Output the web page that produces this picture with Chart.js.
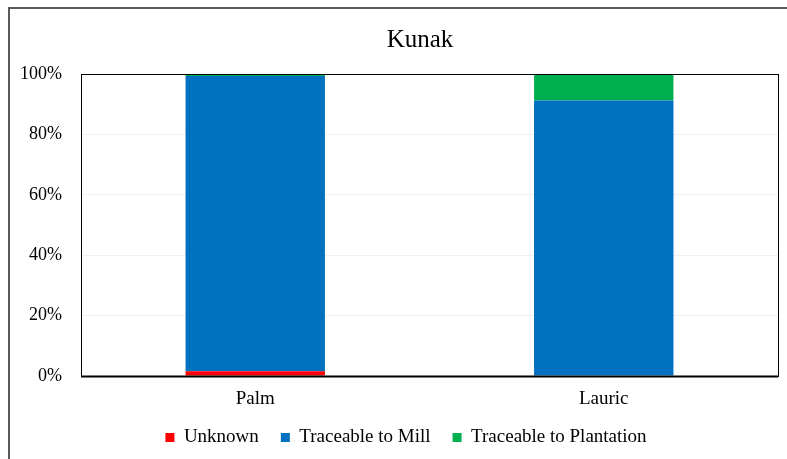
<!DOCTYPE html>
<html>
<head>
<meta charset="utf-8">
<script src="https://cdn.jsdelivr.net/npm/chart.js@4.4.1/dist/chart.umd.min.js"></script>
<style>
    html, body { margin: 0; padding: 0; background: #fff; }
    #wrap { position: relative; width: 787px; height: 459px; }
</style>
</head>
<body>
<div id="wrap"><canvas id="chart" width="787" height="459"></canvas></div>
<script>
// Chart data
const categories = ['Palm', 'Lauric'];
const unknownVals = [1.6, 0];
const millVals = [97.7, 91.2];
const plantationVals = [0.7, 8.8];
const yTicks = [0, 20, 40, 60, 80, 100];

const SERIF = '"Liberation Serif", "Times New Roman", serif';

// Outer frame and plot box, like the Excel chart area
const framePlugin = {
    id: 'frame',
    afterLayout(chart) {
        // title and legend are centred on the wider outer frame, not the canvas
        if (chart.titleBlock) { chart.titleBlock.left += 31; chart.titleBlock.right += 31; }
        if (chart.legend) { chart.legend.left += 17; chart.legend.right += 17; }
    },
    beforeDraw(chart) {
        const ctx = chart.ctx;
        ctx.save();
        ctx.fillStyle = '#fff';
        ctx.fillRect(0, 0, chart.width, chart.height);
        ctx.strokeStyle = '#595959';
        ctx.lineWidth = 2;
        ctx.strokeRect(9, 8, chart.width + 20, chart.height + 20);
        ctx.restore();
    },
    afterDatasetsDraw(chart) {
        const a = chart.chartArea;
        const ctx = chart.ctx;
        ctx.save();
        ctx.strokeStyle = '#000';
        ctx.lineWidth = 1;
        ctx.strokeRect(Math.round(a.left) + 0.5, Math.round(a.top) + 0.5,
            Math.round(a.right - a.left), Math.round(a.bottom - a.top));
        ctx.lineWidth = 2;
        ctx.beginPath();
        ctx.moveTo(a.left, Math.round(a.bottom) + 0.5);
        ctx.lineTo(a.right, Math.round(a.bottom) + 0.5);
        ctx.stroke();
        ctx.restore();
    }
};

new Chart(document.getElementById('chart').getContext('2d'), {
    type: 'bar',
    data: {
        labels: categories,
        datasets: [
            { label: 'Unknown', data: unknownVals, backgroundColor: '#ff0000' },
            { label: 'Traceable to Mill', data: millVals, backgroundColor: '#0070c0' },
            { label: 'Traceable to Plantation', data: plantationVals, backgroundColor: '#00b050' },
        ]
    },
    options: {
        responsive: false,
        animation: false,
        layout: { padding: { left: 0, right: 9, top: 0, bottom: 2 } },
        datasets: {
            bar: { barPercentage: 0.4, categoryPercentage: 1.0, borderWidth: 0 }
        },
        plugins: {
            title: {
                display: true,
                text: 'Kunak',
                color: '#000',
                font: { family: SERIF, size: 25, weight: 'normal' },
                padding: { top: 25, bottom: 19 }
            },
            legend: {
                position: 'bottom',
                labels: {
                    color: '#000',
                    font: { family: SERIF, size: 19 },
                    boxWidth: 9,
                    boxHeight: 9,
                    padding: 22,
                }
            },
            tooltip: { enabled: false }
        },
        scales: {
            x: {
                stacked: true,
                grid: { display: false, drawTicks: false },
                border: { display: false },
                ticks: {
                    color: '#000',
                    font: { family: SERIF, size: 19 },
                    padding: 12,
                },
                afterFit(scale) { scale.height = 30; }
            },
            y: {
                stacked: true,
                min: 0,
                max: 100,
                afterBuildTicks(scale) { scale.ticks = yTicks.map(v => ({ value: v })); },
                grid: { color: '#f0f0f0', drawTicks: false },
                border: { display: false },
                ticks: {
                    color: '#000',
                    font: { family: SERIF, size: 18 },
                    padding: 19,
                    callback: v => v + '%'
                },
                afterFit(scale) { scale.width = 81; }
            }
        }
    },
    plugins: [framePlugin]
});
</script>
</body>
</html>
